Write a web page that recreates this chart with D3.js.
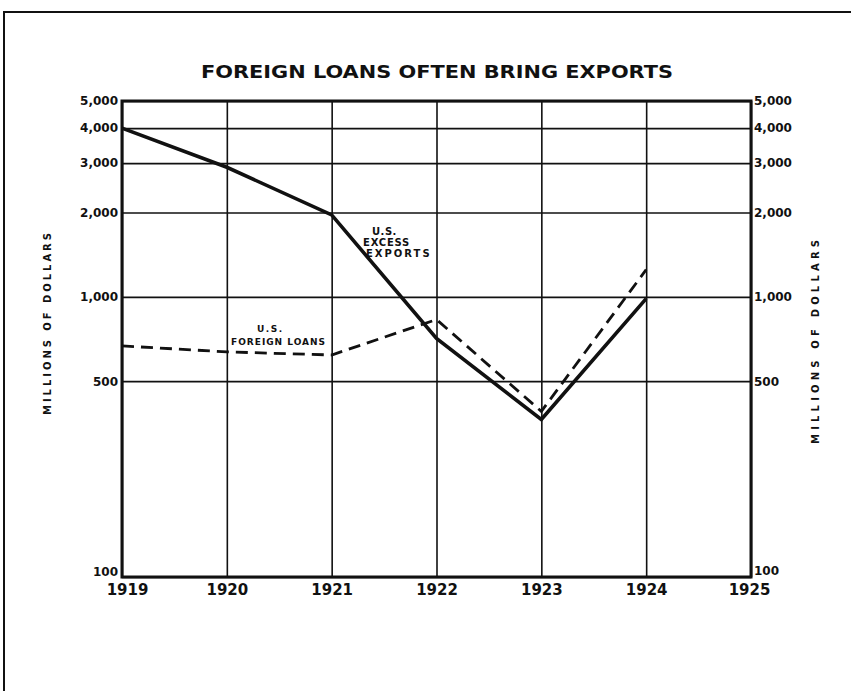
<!DOCTYPE html>
<html>
<head>
<meta charset="utf-8">
<script src="https://cdn.jsdelivr.net/npm/d3@7/dist/d3.min.js"></script>
<style>
  html, body { margin: 0; padding: 0; background: #fff; }
  svg { display: block; }
  text { font-family: "DejaVu Sans", sans-serif; font-weight: bold; fill: #111; }
</style>
</head>
<body>
<svg id="chart" width="851" height="691"></svg>
<script>
// Years on the horizontal axis
const years = [1919, 1920, 1921, 1922, 1923, 1924, 1925];
// Millions of dollars, log scale
const yTicks = [100, 500, 1000, 2000, 3000, 4000, 5000];
const yTickLabels = ["100", "500", "1,000", "2,000", "3,000", "4,000", "5,000"];

// U.S. excess exports (solid line)
const exportYears = [1919, 1920, 1921, 1922, 1923, 1924];
const excessExports = [4000, 2900, 1960, 710, 365, 985];

// U.S. foreign loans (dashed line)
const loanYears = [1919, 1920, 1921, 1922, 1923, 1924];
const foreignLoans = [668, 636, 620, 830, 390, 1250];

const svg = d3.select("#chart");
const ink = "#111";

// outer frame
svg.append("path")
  .attr("d", "M4,691 L4,12 L851,12")
  .attr("fill", "none").attr("stroke", ink).attr("stroke-width", 2);

const plotL = 122, plotR = 751, plotT = 101, plotB = 577;
const x = d3.scaleLinear().domain([1919, 1925]).range([plotL, plotR]);
const y = d3.scaleLog().domain([100, 5000]).range([plotB, plotT]);

// title
svg.append("text")
  .attr("x", 437).attr("y", 78)
  .attr("text-anchor", "middle")
  .attr("font-size", 18)
  .attr("textLength", 472).attr("lengthAdjust", "spacingAndGlyphs")
  .text("FOREIGN LOANS OFTEN BRING EXPORTS");

// horizontal grid + left labels
const labelOf = v => yTickLabels[yTicks.indexOf(v)];
const gLeft = svg.append("g").attr("transform", `translate(${plotL},0)`)
  .call(d3.axisLeft(y).tickValues(yTicks).tickFormat(labelOf)
    .tickSize(-(plotR - plotL)).tickPadding(4));
gLeft.select(".domain").remove();
gLeft.selectAll(".tick line").attr("stroke", ink).attr("stroke-width", 1.6);
gLeft.selectAll(".tick text")
  .attr("font-family", "DejaVu Sans Condensed, DejaVu Sans, sans-serif")
  .attr("font-size", 12).attr("fill", ink)
  .attr("dy", d => d === 100 ? "-0.1em" : "0.32em");

// right labels
const gRight = svg.append("g").attr("transform", `translate(${plotR},0)`)
  .call(d3.axisRight(y).tickValues(yTicks).tickFormat(labelOf)
    .tickSize(0).tickPadding(3));
gRight.select(".domain").remove();
gRight.selectAll(".tick text")
  .attr("font-family", "DejaVu Sans Condensed, DejaVu Sans, sans-serif")
  .attr("font-size", 12).attr("fill", ink)
  .attr("dy", d => d === 100 ? "-0.2em" : "0.32em");

// vertical grid + year labels
const gBottom = svg.append("g").attr("transform", `translate(0,${plotB})`)
  .call(d3.axisBottom(x).tickValues(years).tickFormat(d3.format("d"))
    .tickSize(-(plotB - plotT)).tickPadding(7));
gBottom.select(".domain").remove();
gBottom.selectAll(".tick line").attr("stroke", ink).attr("stroke-width", 1.6);
gBottom.selectAll(".tick text")
  .attr("font-family", "DejaVu Sans Condensed, DejaVu Sans, sans-serif")
  .attr("font-size", 15).attr("fill", ink)
  .attr("dx", d => d === 1919 ? 5 : (d === 1925 ? -2 : 0));

// heavy frame of the plot area
svg.append("rect")
  .attr("x", plotL).attr("y", plotT)
  .attr("width", plotR - plotL).attr("height", plotB - plotT)
  .attr("fill", "none").attr("stroke", ink).attr("stroke-width", 3);

// axis titles
function sideTitle(cx, cy, len) {
  svg.append("text")
    .attr("transform", `translate(${cx},${cy}) rotate(-90)`)
    .attr("text-anchor", "middle")
    .attr("font-size", 10)
    .attr("textLength", len).attr("lengthAdjust", "spacing")
    .text("MILLIONS OF DOLLARS");
}
sideTitle(51, 324, 182);
sideTitle(819, 342, 204);

// series lines
const line = d3.line().x(d => x(d[0])).y(d => y(d[1]));
svg.append("path")
  .datum(exportYears.map((yr, i) => [yr, excessExports[i]]))
  .attr("d", line)
  .attr("fill", "none").attr("stroke", ink).attr("stroke-width", 3.6)
  .attr("stroke-linejoin", "miter");

svg.append("path")
  .datum(loanYears.map((yr, i) => [yr, foreignLoans[i]]))
  .attr("d", line)
  .attr("fill", "none").attr("stroke", ink).attr("stroke-width", 2.8)
  .attr("stroke-dasharray", "12,7");

// series labels
function seriesLabel(lines, xs, ys, size, spacing) {
  lines.forEach((t, i) => {
    svg.append("text")
      .attr("x", xs[i]).attr("y", ys[i])
      .attr("text-anchor", "start")
      .attr("font-size", size)
      .attr("letter-spacing", spacing[i])
      .text(t);
  });
}
seriesLabel(["U.S.", "EXCESS", "EXPORTS"], [372, 363, 366], [235, 246, 257], 10, [0.5, 0.8, 2]);
seriesLabel(["U.S.", "FOREIGN LOANS"], [257, 231], [332, 345], 9, [1.5, 1]);
</script>
</body>
</html>
